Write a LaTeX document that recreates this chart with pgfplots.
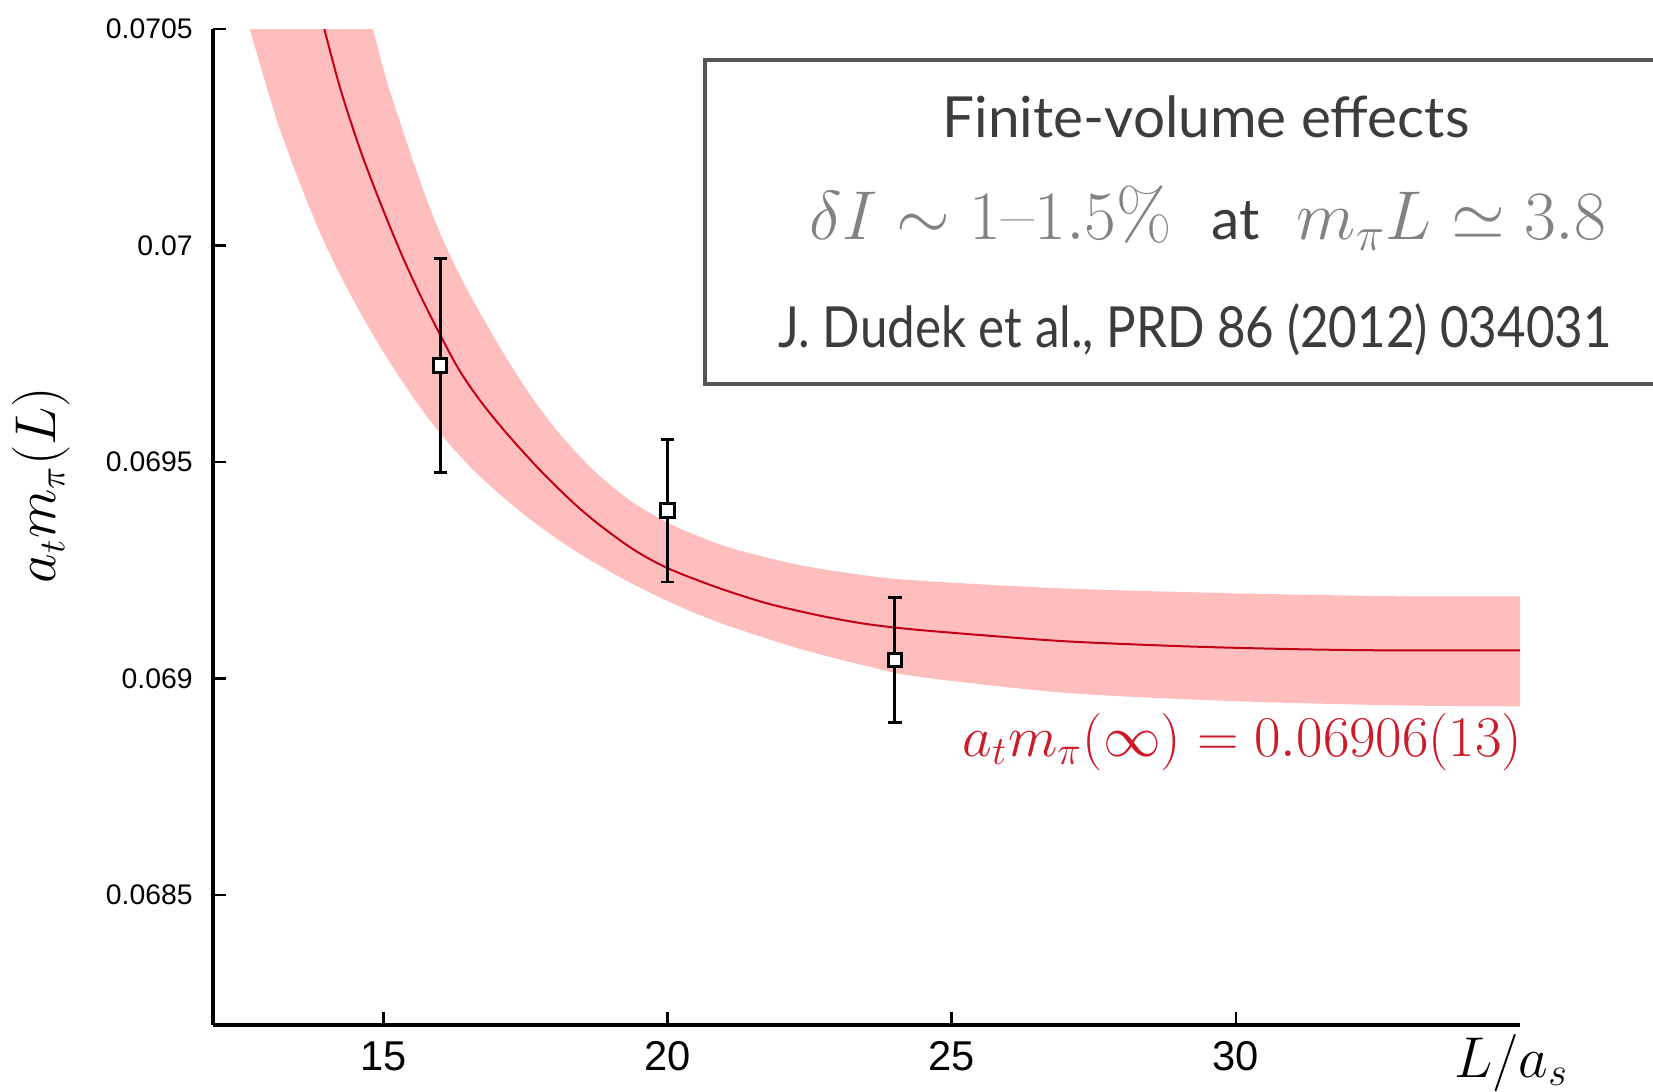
\documentclass[border=0pt]{standalone}
\usepackage{fontspec}
\setsansfont{Liberation Sans}
\newfontfamily\gill{Lato}
\usepackage{graphicx}
\usepackage{pgfplots}
\pgfplotsset{compat=1.18}
\usepgfplotslibrary{fillbetween}

\definecolor{bandpink}{RGB}{255,190,190}
\definecolor{fitred}{RGB}{195,0,20}
\definecolor{labred}{RGB}{205,25,40}
\definecolor{boxgray}{RGB}{85,85,85}
\definecolor{txtgray}{RGB}{60,60,60}
\definecolor{mathgray}{RGB}{130,130,130}

\begin{document}
\begin{tikzpicture}
\begin{axis}[
  scale only axis, width=392.1pt, height=298.8pt,
  xmin=12, xmax=35, ymin=0.0682, ymax=0.0705,
  axis lines=left, axis line style={-, line width=1pt},
  tick align=inside, major tick length=4pt,
  tick style={line width=0.8pt, black},
  xtick={15,20,25,30}, xticklabels={15,20,25,30},
  ytick={0.0685,0.069,0.0695,0.07,0.0705},
  yticklabels={0.0685,0.069,0.0695,0.07,0.0705},
  xticklabel style={font=\sffamily\fontsize{12.5}{14}\selectfont, yshift=-1.4pt},
  yticklabel style={font=\sffamily\fontsize{8.5}{10}\selectfont, xshift=-2.6pt},
]
% error band of the fit
\addplot[draw=none, smooth, name path=up] coordinates {
(14.60,0.070610) (14.82,0.070498) (15.05,0.070383) (15.35,0.070262)
(15.64,0.070150) (15.99,0.070030) (16.34,0.069932) (16.70,0.069844)
(17.11,0.069752) (17.58,0.069655) (18.10,0.069565) (18.69,0.069482)
(19.33,0.069412) (20.00,0.069360) (20.56,0.069328) (21.15,0.069300)
(22.32,0.069262) (23.50,0.069238) (24.43,0.069226) (27.01,0.069208)
(29.94,0.069197) (32.88,0.069190) (35.00,0.069190)};
\addplot[draw=none, smooth, name path=lo] coordinates {
(12.40,0.070610) (12.65,0.070498) (13.18,0.070267) (13.82,0.070049)
(14.32,0.069911) (14.82,0.069793) (15.29,0.069694) (15.87,0.069587)
(16.46,0.069498) (17.05,0.069425) (17.63,0.069363) (18.22,0.069308)
(18.81,0.069260) (19.39,0.069218) (20.00,0.069179) (20.56,0.069147)
(21.15,0.069118) (22.32,0.069069) (23.50,0.069029) (24.43,0.069004)
(27.01,0.068967) (29.94,0.068948) (32.88,0.068938) (35.00,0.068936)};
\addplot[bandpink] fill between[of=up and lo];
% central fit
\addplot[fitred, line width=0.6pt, smooth] coordinates {
(13.90,0.070530) (14.23,0.070367) (14.58,0.070225)
(14.94,0.070100) (15.35,0.069970) (15.76,0.069855) (16.29,0.069722)
(16.70,0.069642) (17.17,0.069566) (17.75,0.069482)
(18.34,0.069406) (18.81,0.069354) (19.40,0.069298)
(20.00,0.069255) (20.86,0.069211) (21.74,0.069174) (22.62,0.069147)
(23.40,0.069128) (24.20,0.069115) (25.55,0.069100) (27.01,0.069086)
(28.77,0.069076) (30.00,0.069071) (31.41,0.069067) (32.88,0.069065)
(35.00,0.069065)};
% lattice data
\addplot[only marks, mark=square*, mark size=2pt,
  mark options={fill=white, draw=black, line width=0.9pt},
  error bars/.cd, y dir=both, y explicit,
  error bar style={line width=0.85pt, black},
  error mark options={rotate=90, mark size=2pt, line width=0.85pt, black}]
  coordinates {
  (16,0.069723) +- (0,0.000247)
  (20,0.069388) +- (0,0.000165)
  (24,0.069043) +- (0,0.000145)};
\end{axis}

% labels
\node[rotate=90, font=\fontsize{16}{19}\selectfont] at (-51.5pt,162pt) {$a_t m_\pi(L)$};
\node[anchor=base, font=\fontsize{16.5}{19}\selectfont] at (389.5pt,-15.6pt) {$L/a_s$};
\node[anchor=base east, text=labred, font=\fontsize{17}{20}\selectfont, inner sep=0pt]
  at (393pt,80.7pt) {$a_t m_\pi(\infty) = 0.06906(13)$};

% info box
\begin{scope}
\clip (-63.9pt,-19.8pt) rectangle (432pt,307.5pt);
\draw[boxgray, line width=1.4pt] (147.6pt,192.3pt) rectangle (447.6pt,289.5pt);
\end{scope}
\node[anchor=base, text=txtgray, font=\gill\fontsize{17}{20}\selectfont, inner sep=0pt]
  at (297.9pt,266.1pt) {Finite-volume effects};
\node[anchor=base, text=mathgray, font=\fontsize{21.5}{24}\selectfont, inner sep=0pt]
  at (298.5pt,235.5pt) {$\delta I\sim 1$\textendash$1.5\%$\hspace{12pt}{\gill\color{txtgray}\fontsize{17}{20}\selectfont at}\hspace{11pt}$m_\pi L\simeq 3.8$};
\node[anchor=base, text=txtgray, font=\gill\fontsize{17}{20}\selectfont, inner sep=0pt]
  at (294.6pt,203.1pt) {\scalebox{0.87}[1]{J. Dudek et al., PRD 86 (2012) 034031}};

\pgfresetboundingbox
\useasboundingbox (-63.9pt,-19.8pt) rectangle (432pt,307.5pt);
\end{tikzpicture}
\end{document}
